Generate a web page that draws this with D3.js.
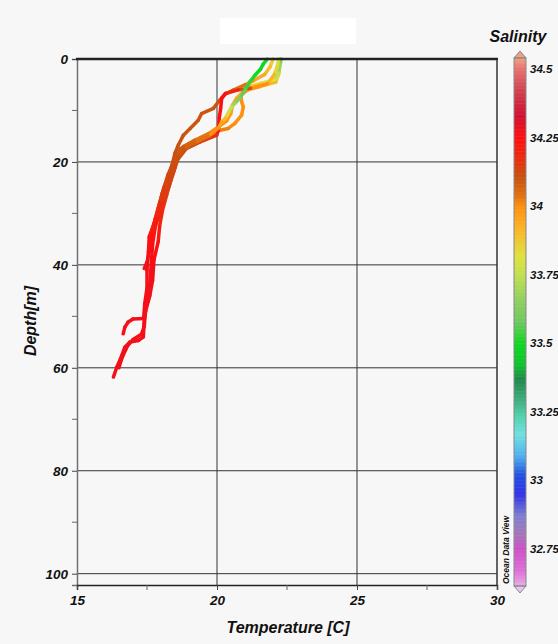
<!DOCTYPE html>
<html>
<head>
<meta charset="utf-8">
<script src="https://cdn.jsdelivr.net/npm/d3@7"></script>
<style>
  body { margin: 0; background: #f7f7f7; }
  svg { display: block; }
  text { font-family: "Liberation Sans", Arial, sans-serif; font-weight: bold; font-style: italic; fill: #111; }
</style>
</head>
<body>
<div id="chart"></div>
<script>
// each cast: [temperature (C), depth (m), salinity]
const cast1 = [[21.8,0,33.5],[21.65,1,33.5],[21.55,2,33.5],[21.35,3.2,33.5],[21.18,4.4,33.52],[21.0,6,33.55],
  [20.82,7.6,33.6],[20.64,8.6,33.66],[20.52,9.3,33.72],[20.4,10.5,33.8],[20.3,11.5,33.88],[20.17,12.2,33.93],
  [20.05,13.4,33.98],[19.7,15.0,34.02],[19.2,16.3,34.06],[18.8,17.5,34.09],[18.6,19,34.11],[18.45,21,34.12],
  [18.3,23,34.13],[18.15,25.5,34.14],[18.0,28,34.17],[17.85,31,34.21],[17.7,34,34.24],[17.6,37,34.26],
  [17.5,39.5,34.27],[17.4,40.7,34.27]];
const cast2 = [[22.2,0,33.78],[22.15,1.5,33.82],[22.05,3,33.88],[21.8,4.8,33.95],[21.2,5.7,34.05],[20.76,6.0,34.15],
  [20.3,6.7,34.25],[20.17,7.6,34.26],[20.13,9.6,34.26],[20.08,11.5,34.26],[20.05,13.8,34.25],[19.99,14.8,34.2],
  [19.4,16.1,34.14],[18.9,17.4,34.12],[18.6,19.5,34.12],[18.45,22,34.13],[18.3,24.5,34.14],[18.1,27.5,34.16],
  [17.95,30,34.2],[17.8,32.5,34.23],[17.7,36,34.26],[17.65,40,34.27],[17.6,44,34.27],[17.5,47,34.27],
  [17.4,50.5,34.27],[17.37,54,34.27],[17.19,54.7,34.27],[16.89,55,34.27],[16.71,56,34.27],[16.6,57.6,34.27],
  [16.48,59.2,34.27],[16.42,59.9,34.27],[16.3,61.8,34.27]];
const cast3 = [[22.0,0,33.85],[21.9,1.5,33.88],[21.7,3,33.92],[21.3,4.2,33.97],[21.0,5,34.02],[20.6,6,34.06],
  [20.3,6.8,34.09],[20.1,8,34.1],[19.87,9.6,34.1],[19.45,10.6,34.1],[19.33,11.9,34.1],[19.04,13.5,34.1],
  [18.8,14.8,34.1],[18.62,16.7,34.11],[18.5,18.3,34.11],[18.4,20.5,34.12],[18.25,23,34.13],[18.05,26,34.15],
  [17.9,29,34.18],[17.75,32,34.22],[17.58,34.5,34.24],[17.55,37.5,34.26],[17.5,41,34.27],[17.5,44.5,34.27],
  [17.42,47.5,34.27],[17.38,50.4,34.27],[17.0,50.5,34.27],[16.83,51.1,34.27],[16.71,52.1,34.27],[16.65,53.4,34.27]];
const cast4 = [[22.25,0,33.72],[22.25,1.2,33.76],[22.2,3,33.82],[22.1,4.5,33.88],[21.5,5.4,33.95],[21.1,6.0,33.98],
  [20.85,7,34.0],[20.88,8.3,34.0],[20.94,9.3,34.0],[20.88,10.9,34.0],[20.64,12.5,34.0],[20.4,13.5,34.01],
  [20.0,14.0,34.03],[19.6,15,34.05],[19.1,16.3,34.08],[18.7,17.4,34.1],[18.55,19,34.11],[18.5,21,34.12],
  [18.35,23.5,34.13],[18.2,26.5,34.14],[18.05,29.5,34.17],[17.95,32.5,34.21],[17.9,35.5,34.24],[17.75,39,34.26],
  [17.7,43,34.27],[17.6,46,34.27],[17.45,49,34.27],[17.4,52,34.27],[17.3,53.5,34.27],[17.0,54.5,34.27],
  [16.8,55.8,34.27],[16.65,57.5,34.27],[16.55,59,34.27],[16.5,60,34.27]];
const cast5 = [[22.3,0,33.6],[22.25,1,33.65],[22.2,2.8,33.72],[22.05,4,33.78],[21.6,4.7,33.84],[21.2,5.3,33.88],
  [20.9,6.5,33.92],[20.7,7.6,33.94],[20.55,9,33.96],[20.5,10.5,33.97],[20.35,12,33.98],[20.1,13,34.0],
  [19.7,14.5,34.02],[19.2,15.8,34.05],[18.8,17,34.08],[18.6,18.5,34.1],[18.45,20,34.11],[18.25,22.5,34.12],
  [18.1,25,34.13],[17.95,28,34.16],[17.8,31,34.2],[17.65,34,34.23],[17.6,37,34.25]];
const casts = [cast3, cast4, cast5, cast2, cast1];

const tempTicks = [15, 20, 25, 30];
const tempMinor = [17.5, 22.5, 27.5];
const depthTicks = [0, 20, 40, 60, 80, 100];
const depthMinor = [10, 30, 50, 70, 90];
const salTicks = [32.75, 33, 33.25, 33.5, 33.75, 34, 34.25, 34.5];

// ODV-like palette
const palStops = [32.61, 32.67, 32.75, 32.8, 32.87, 32.95, 33.02, 33.09, 33.17, 33.24, 33.29, 33.37, 33.42,
  33.5, 33.58, 33.66, 33.75, 33.82, 33.91, 34.0, 34.04, 34.11, 34.17, 34.25, 34.33, 34.42, 34.5, 34.54];
const palColors = ["#e8b4e8", "#e070d8", "#d050c8", "#a874b8", "#8080d0", "#3434e8", "#2050e0", "#50b0f0",
  "#70e0e0", "#50d0a8", "#40b080", "#208a48", "#10c030", "#10d820", "#70c860", "#90d060", "#c0e050",
  "#e0e040", "#f8b828", "#ff9010", "#e07010", "#c85010", "#e83010", "#ff1010", "#d01030", "#d04050",
  "#e87070", "#f0a080"];

const W = 558, H = 644;
const svg = d3.select("#chart").append("svg").attr("width", W).attr("height", H);

svg.append("rect").attr("width", W).attr("height", H).attr("fill", "#f7f7f7");
svg.append("rect").attr("x", 220).attr("y", 18).attr("width", 136).attr("height", 26).attr("fill", "#fff");

const x = d3.scaleLinear().domain([15, 30]).range([77, 497]);
const y = d3.scaleLinear().domain([0, 102.2]).range([59, 585]);
const color = d3.scaleLinear().domain(palStops).range(palColors).clamp(true);

// grid
svg.append("g").selectAll("line").data(depthTicks.slice(1)).enter().append("line")
  .attr("x1", x(15)).attr("x2", x(30)).attr("y1", d => y(d)).attr("y2", d => y(d))
  .attr("stroke", "#333").attr("stroke-width", 1);
svg.append("g").selectAll("line").data([20, 25]).enter().append("line")
  .attr("x1", d => x(d)).attr("x2", d => x(d)).attr("y1", y(0)).attr("y2", y.range()[1])
  .attr("stroke", "#333").attr("stroke-width", 1);

// profiles
const gp = svg.append("g");
casts.forEach(function(c) {
  const segs = d3.pairs(c);
  gp.selectAll(null).data(segs).enter().append("line")
    .attr("x1", d => x(d[0][0])).attr("y1", d => y(d[0][1]))
    .attr("x2", d => x(d[1][0])).attr("y2", d => y(d[1][1]))
    .attr("stroke", d => color((d[0][2] + d[1][2]) / 2))
    .attr("stroke-width", 3.5).attr("stroke-linecap", "round");
});

// axes
const yAxis = d3.axisLeft(y).tickValues(depthTicks).tickSize(5).tickPadding(4).tickFormat(d3.format("d"));
const yg = svg.append("g").attr("transform", "translate(" + x(15) + ",0)").call(yAxis);
yg.select(".domain").attr("stroke", "#707070").attr("stroke-width", 1.5);
yg.selectAll(".tick line").attr("stroke", "#444");
yg.selectAll(".tick text").style("font-size", "13.5px").attr("fill", "#111");
yg.selectAll(".minor").data(depthMinor).enter().append("line")
  .attr("x1", -5).attr("x2", 0).attr("y1", d => y(d)).attr("y2", d => y(d)).attr("stroke", "#666");

const xAxis = d3.axisBottom(x).tickValues(tempTicks).tickSize(5).tickPadding(5).tickFormat(d3.format("d"));
const xg = svg.append("g").attr("transform", "translate(0," + y.range()[1] + ")").call(xAxis);
xg.select(".domain").attr("stroke", "#222").attr("stroke-width", 1.5);
xg.selectAll(".tick line").attr("stroke", "#444");
xg.selectAll(".tick text").style("font-size", "13.5px").attr("fill", "#111");
xg.selectAll(".minor").data(tempMinor).enter().append("line")
  .attr("x1", d => x(d)).attr("x2", d => x(d)).attr("y1", 0).attr("y2", 5).attr("stroke", "#666");

// frame top and right
svg.append("line").attr("x1", x(15) - 1).attr("x2", x(30) + 1).attr("y1", y(0)).attr("y2", y(0))
  .attr("stroke", "#222").attr("stroke-width", 2.5);
svg.append("line").attr("x1", x(30)).attr("x2", x(30)).attr("y1", y(0)).attr("y2", y.range()[1])
  .attr("stroke", "#333").attr("stroke-width", 1.5);

// axis titles
svg.append("text").attr("x", 288).attr("y", 633).attr("text-anchor", "middle")
  .style("font-size", "16px").text("Temperature [C]");
svg.append("text").attr("transform", "translate(36,321) rotate(-90)").attr("text-anchor", "middle")
  .style("font-size", "16px").text("Depth[m]");

// colour bar
const sy = d3.scaleLinear().domain([32.75, 34.5]).range([549, 69]);
const cb = svg.append("g");
const sTop = sy.invert(58), sBot = sy.invert(586);
const steps = d3.range(sBot, sTop, 0.005);
cb.selectAll("rect").data(steps).enter().append("rect")
  .attr("x", 514).attr("width", 12)
  .attr("y", d => sy(d + 0.005)).attr("height", d => sy(d) - sy(d + 0.005) + 0.5)
  .attr("fill", d => color(d + 0.0025));
cb.append("path").attr("d", "M514,58 L520,51 L526,58 Z").attr("fill", color(34.54)).attr("stroke", "#888");
cb.append("path").attr("d", "M514,586 L520,593 L526,586 Z").attr("fill", "#e8c4f0").attr("stroke", "#888");
cb.append("rect").attr("x", 514).attr("y", 58).attr("width", 12).attr("height", 528)
  .attr("fill", "none").attr("stroke", "#888");
cb.selectAll("text").data(salTicks).enter().append("text")
  .attr("x", 530).attr("y", d => sy(d)).attr("dy", "0.35em")
  .style("font-size", "11.5px").text(d => d3.format("~g")(d));
svg.append("text").attr("x", 518).attr("y", 42).attr("text-anchor", "middle")
  .style("font-size", "16px").text("Salinity");
svg.append("text").attr("transform", "translate(509,550) rotate(-90)").attr("text-anchor", "middle")
  .style("font-size", "8.5px").text("Ocean Data View");
</script>
</body>
</html>
